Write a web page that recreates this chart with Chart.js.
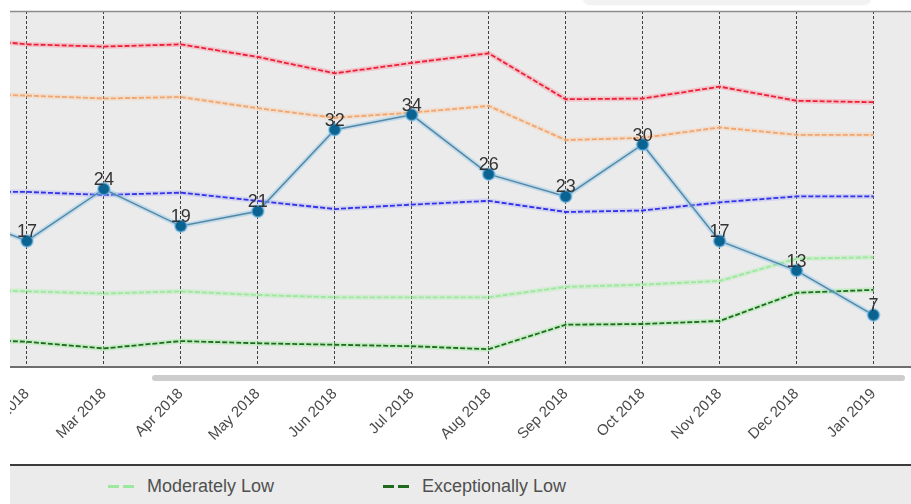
<!DOCTYPE html>
<html>
<head>
<meta charset="utf-8">
<script src="https://cdn.jsdelivr.net/npm/chart.js@4/dist/chart.umd.min.js"></script>
<style>
html,body{margin:0;padding:0;background:#fff;width:911px;height:504px;overflow:hidden;font-family:"Liberation Sans",Arial,sans-serif;}
#topbox{position:absolute;left:583px;top:-6px;width:288px;height:10px;background:#f2f2f2;border-radius:0 0 7px 7px;box-shadow:0 1px 2px rgba(0,0,0,0.07);z-index:3;}
#plotwrap{position:absolute;left:10px;top:0;width:901px;height:463px;overflow:hidden;}
#chart{position:absolute;top:0;left:0;}
#scrollbar{position:absolute;left:152px;top:375px;width:753px;height:6px;background:#cdcdcd;border-radius:3px;z-index:2;}
#legend{position:absolute;left:10px;top:464px;width:901px;height:40px;background:#ebebeb;border-top:2px solid #3c3c3c;}
.sym{position:absolute;height:3px;width:26px;}
.lbl{position:absolute;font-size:18px;line-height:18px;color:#505050;white-space:nowrap;}
</style>
</head>
<body>
<div id="plotwrap"><canvas id="chart"></canvas></div>
<div id="scrollbar"></div>
<div id="topbox"></div>
<div id="legend"></div>
<script>
// ---- data ----
const categories = ['Jan 2018','Feb 2018','Mar 2018','Apr 2018','May 2018','Jun 2018','Jul 2018','Aug 2018','Sep 2018','Oct 2018','Nov 2018','Dec 2018','Jan 2019'];
const observed          = [21, 17, 24, 19, 21, 32, 34, 26, 23, 30, 17, 13, 7];
const exceptionallyHigh = [44.5, 43.5, 43.2, 43.5, 41.8, 39.6, 41.0, 42.3, 36.1, 36.2, 37.8, 35.9, 35.7];
const moderatelyHigh    = [36.9, 36.6, 36.2, 36.4, 34.9, 33.6, 34.3, 35.2, 30.6, 30.9, 32.3, 31.3, 31.3];
const average           = [23.6, 23.6, 23.2, 23.5, 22.4, 21.3, 21.9, 22.4, 20.9, 21.1, 22.2, 23.0, 23.0];
const moderatelyLow     = [10.6, 10.2, 9.9, 10.2, 9.7, 9.4, 9.4, 9.4, 10.8, 11.1, 11.6, 14.6, 14.8];
const exceptionallyLow  = [3.8, 3.4, 2.5, 3.5, 3.2, 3.0, 2.8, 2.4, 5.7, 5.8, 6.2, 10.0, 10.4];
const seriesNames = ['Observed','Exceptionally High','Moderately High','Average','Moderately Low','Exceptionally Low'];
const yMin = 0, yMax = 48;
const visibleLegend = ['Moderately Low','Exceptionally Low'];

// ---- styles ----
const colors = ['#5687a3','#ec2035','#f2a56c','#3232e6','#9ce89c','#1f6a1f'];
const glows  = ['rgba(140,200,235,0.45)','rgba(255,120,140,0.35)','rgba(250,200,160,0.35)','rgba(150,150,255,0.30)','rgba(160,240,160,0.30)','rgba(150,235,150,0.45)'];
const seriesData = [observed, exceptionallyHigh, moderatelyHigh, average, moderatelyLow, exceptionallyLow];

const datasets = seriesData.map((d, i) => ({
  label: seriesNames[i],
  data: d,
  borderColor: colors[i],
  backgroundColor: colors[i],
  borderWidth: i === 0 ? 1.5 : 1.8,
  borderDash: i === 0 ? [] : [5, 2],
  pointRadius: i === 0 ? 6 : 0,
  pointHoverRadius: i === 0 ? 6 : 0,
  pointBackgroundColor: '#0b6391',
  pointBorderColor: 'rgba(120,190,235,0.55)',
  pointBorderWidth: i === 0 ? 2 : 0,
  tension: 0,
  fill: false,
  glow: glows[i]
}));

const bgPlugin = {
  id: 'bg',
  beforeDraw(chart) {
    const {ctx, chartArea: a} = chart;
    ctx.save();
    ctx.fillStyle = '#ebebeb';
    ctx.fillRect(a.left, a.top, a.right - a.left, a.bottom - a.top);
    ctx.restore();
  },
  afterDraw(chart) {
    const {ctx, chartArea: a} = chart;
    ctx.save();
    ctx.strokeStyle = '#8c8c8c';
    ctx.lineWidth = 1.5;
    ctx.beginPath(); ctx.moveTo(a.left, a.top + 0.5); ctx.lineTo(a.right, a.top + 0.5); ctx.stroke();
    ctx.strokeStyle = '#6e6e6e';
    ctx.lineWidth = 2;
    ctx.beginPath(); ctx.moveTo(a.left, a.bottom); ctx.lineTo(a.right, a.bottom); ctx.stroke();
    ctx.restore();
  }
};

const glowPlugin = {
  id: 'glow',
  beforeDatasetDraw(chart, args) {
    const ds = chart.data.datasets[args.index];
    const pts = args.meta.data;
    const ctx = chart.ctx;
    ctx.save();
    ctx.strokeStyle = ds.glow;
    ctx.lineWidth = 5;
    ctx.setLineDash([]);
    ctx.lineJoin = 'round';
    ctx.beginPath();
    pts.forEach((p, k) => { if (k === 0) ctx.moveTo(p.x, p.y); else ctx.lineTo(p.x, p.y); });
    ctx.stroke();
    ctx.restore();
  }
};

const labelPlugin = {
  id: 'vlabels',
  afterDatasetsDraw(chart) {
    const meta = chart.getDatasetMeta(0);
    const ctx = chart.ctx;
    ctx.save();
    ctx.font = '18px "Liberation Sans", Arial, sans-serif';
    ctx.fillStyle = '#333';
    ctx.textAlign = 'center';
    ctx.textBaseline = 'alphabetic';
    meta.data.forEach((p, k) => {
      ctx.fillText(String(observed[k]), p.x, p.y - 4);
    });
    ctx.restore();
  }
};

const canvas = document.getElementById('chart');
const H = 460;
const TARGET_W = 77 * categories.length;
let chart = null;

function build(W) {
  canvas.width = W; canvas.height = H;
  canvas.style.width = W + 'px'; canvas.style.height = H + 'px';
  return new Chart(canvas, {
    type: 'line',
    data: { labels: categories, datasets },
    options: {
      responsive: false,
      animation: false,
      layout: { padding: { top: 11, left: 0, right: 0, bottom: 0 } },
      plugins: { legend: { display: false }, tooltip: { enabled: false } },
      scales: {
        x: {
          type: 'category',
          offset: true,
          grid: { display: true, color: '#404040', lineWidth: 1, drawTicks: false, offset: false, borderDash: [3, 2] },
          border: { display: false, dash: [3, 2] },
          ticks: {
            autoSkip: false, minRotation: 45, maxRotation: 45, padding: 18,
            color: '#4a4a4a', font: { family: '"Liberation Sans", Arial, sans-serif', size: 15 }
          },
          afterFit(s) { s.height = H - 367; }
        },
        y: { display: false, min: yMin, max: yMax }
      }
    },
    plugins: [bgPlugin, glowPlugin, labelPlugin]
  });
}

let W = 1100;
chart = build(W);
for (let k = 0; k < 3; k++) {
  const a = chart.chartArea;
  const w = a.right - a.left;
  if (Math.abs(w - TARGET_W) < 0.5) break;
  W = Math.round(W + (TARGET_W - w));
  chart.destroy();
  chart = build(W);
}
const xFeb = chart.scales.x.getPixelForValue(1);
canvas.style.left = (17 - xFeb) + 'px';

// ---- HTML legend (only the visible row) ----
const legend = document.body;
const legendPos = { 'Moderately Low': 108, 'Exceptionally Low': 383 };
visibleLegend.forEach(name => {
  const i = seriesNames.indexOf(name);
  const x = legendPos[name];
  const sym = document.createElement('div');
  sym.className = 'sym';
  sym.style.left = x + 'px';
  sym.style.top = '485px';
  sym.style.background = `linear-gradient(to right, ${colors[i]} 0 11px, transparent 11px 15px, ${colors[i]} 15px 26px)`;
  legend.appendChild(sym);
  const t = document.createElement('div');
  t.className = 'lbl';
  t.style.left = (x + 39) + 'px';
  t.style.top = '477px';
  t.textContent = name;
  legend.appendChild(t);
});
</script>
</body>
</html>
